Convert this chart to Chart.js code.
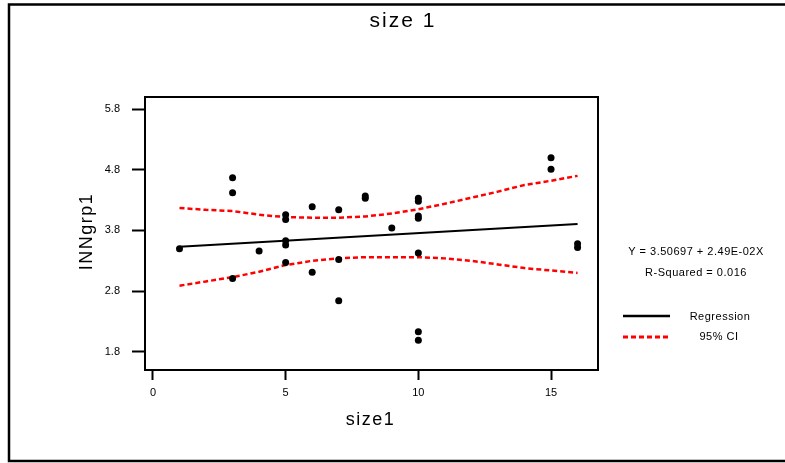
<!DOCTYPE html>
<html>
<head>
<meta charset="utf-8">
<script src="https://cdn.jsdelivr.net/npm/chart.js@4"></script>
<style>
  html, body { margin: 0; padding: 0; background: #fff; }
  canvas { display: block; }
</style>
</head>
<body>
<canvas id="chart" width="785" height="463"></canvas>
<script>
// Observations: size1 (x) against INNgrp1 (y)
const obsX = [1, 3, 3, 3, 4, 5, 5, 5, 5, 5, 6, 6, 7, 7, 7, 8, 8, 9, 10, 10, 10, 10, 10, 10, 10, 15, 15, 16, 16];
const obsY = [3.50, 4.67, 4.42, 3.01, 3.46, 4.06, 3.98, 3.63, 3.56, 3.27, 4.19, 3.11, 4.14, 3.32, 2.64,
              4.37, 4.33, 3.84, 4.33, 4.28, 4.04, 4.00, 3.43, 2.13, 1.99, 5.00, 4.81, 3.58, 3.52];

// 95% confidence band around the fitted line
const ciX     = [1, 2, 3, 4, 5, 6, 7, 8, 9, 10, 11, 12, 13, 14, 15, 16];
const ciUpper = [4.17, 4.14, 4.12, 4.06, 4.02, 4.01, 4.01, 4.03, 4.08, 4.15, 4.24, 4.34, 4.44, 4.55, 4.62, 4.70];
const ciLower = [2.89, 2.96, 3.03, 3.12, 3.23, 3.30, 3.34, 3.36, 3.36, 3.36, 3.34, 3.30, 3.24, 3.18, 3.14, 3.10];

// Fitted regression
const regIntercept = 3.50697;
const regSlope = 0.0249;
const rSquared = 0.016;
const regRange = [1, 16];

// Axis ticks
const xTicks = [0, 5, 10, 15];
const yTicks = [1.8, 2.8, 3.8, 4.8, 5.8];

const FONT = '"Liberation Sans", Arial, Helvetica, sans-serif';

const pointsData = obsX.map((x, i) => ({ x, y: obsY[i] }));
const regData = regRange.map(x => ({ x, y: regIntercept + regSlope * x }));
const upperData = ciX.map((x, i) => ({ x, y: ciUpper[i] }));
const lowerData = ciX.map((x, i) => ({ x, y: ciLower[i] }));

function slopeText(v) {
  const [m, e] = v.toExponential(2).split('e');
  const n = parseInt(e, 10);
  return m + 'E' + (n < 0 ? '-' : '+') + String(Math.abs(n)).padStart(2, '0');
}

// Frame, headings and the fit summary / key at the right
const decor = {
  id: 'decor',
  afterDraw(chart) {
    const ctx = chart.ctx;
    const a = chart.chartArea;
    const W = chart.width;
    ctx.save();
    ctx.strokeStyle = '#000';
    ctx.fillStyle = '#000';

    // outer border (open on the right)
    ctx.lineWidth = 2.5;
    ctx.beginPath();
    ctx.moveTo(W, 4.5);
    ctx.lineTo(9, 4.5);
    ctx.lineTo(9, 461);
    ctx.lineTo(W, 461);
    ctx.stroke();

    // plot box
    ctx.lineWidth = 2;
    ctx.strokeRect(a.left, a.top, a.right - a.left, a.bottom - a.top);

    ctx.textAlign = 'center';
    ctx.textBaseline = 'middle';

    // title
    ctx.font = '21px ' + FONT;
    ctx.letterSpacing = '2px';
    ctx.fillText('size 1', 403, 21);

    // axis titles
    ctx.font = '18px ' + FONT;
    ctx.letterSpacing = '1.5px';
    ctx.fillText('size1', (a.left + a.right) / 2 - 1, 420);
    ctx.save();
    ctx.translate(87, (a.top + a.bottom) / 2 - 2);
    ctx.rotate(-Math.PI / 2);
    ctx.fillText('INNgrp1', 0, 0);
    ctx.restore();

    // fit summary
    ctx.font = '11px ' + FONT;
    ctx.letterSpacing = '0.5px';
    ctx.fillText('Y = ' + regIntercept + ' + ' + slopeText(regSlope) + 'X', 696, 252);
    ctx.fillText('R-Squared = ' + rSquared.toFixed(3), 696, 273);

    // key
    ctx.fillText('Regression', 720, 317);
    ctx.fillText('95% CI', 719, 337);
    ctx.lineWidth = 2.5;
    ctx.beginPath();
    ctx.moveTo(623, 316);
    ctx.lineTo(670, 316);
    ctx.stroke();
    ctx.strokeStyle = '#ff0000';
    ctx.lineWidth = 3;
    ctx.setLineDash([5, 3]);
    ctx.beginPath();
    ctx.moveTo(623, 337);
    ctx.lineTo(670, 337);
    ctx.stroke();
    ctx.restore();
  }
};

new Chart(document.getElementById('chart'), {
  type: 'scatter',
  data: {
    datasets: [
      {
        label: 'Observed',
        data: pointsData,
        pointRadius: 3.5,
        pointHoverRadius: 3.5,
        pointBackgroundColor: '#000',
        pointBorderWidth: 0,
        showLine: false,
        order: 0
      },
      {
        label: 'Regression',
        data: regData,
        showLine: true,
        borderColor: '#000',
        borderWidth: 2,
        pointRadius: 0,
        order: 1
      },
      {
        label: '95% CI upper',
        data: upperData,
        showLine: true,
        borderColor: '#ff0000',
        borderWidth: 2.5,
        borderDash: [5, 3],
        pointRadius: 0,
        order: 2
      },
      {
        label: '95% CI lower',
        data: lowerData,
        showLine: true,
        borderColor: '#ff0000',
        borderWidth: 2.5,
        borderDash: [5, 3],
        pointRadius: 0,
        order: 2
      }
    ]
  },
  options: {
    responsive: false,
    animation: false,
    events: [],
    layout: { padding: { top: 97, right: 187, left: 0, bottom: 0 } },
    plugins: {
      legend: { display: false },
      title: { display: false },
      tooltip: { enabled: false }
    },
    scales: {
      x: {
        type: 'linear',
        min: -0.3,
        max: 16.77,
        afterBuildTicks: s => { s.ticks = xTicks.map(v => ({ value: v })); },
        afterFit: s => { s.height = 93; },
        border: { display: false },
        grid: {
          drawOnChartArea: false,
          drawTicks: true,
          tickLength: 10,
          tickWidth: 2,
          tickColor: '#000'
        },
        ticks: {
          color: '#000',
          font: { family: FONT, size: 11 },
          padding: 6,
          maxRotation: 0
        }
      },
      y: {
        type: 'linear',
        min: 1.5,
        max: 6.0,
        afterBuildTicks: s => { s.ticks = yTicks.map(v => ({ value: v })); },
        afterFit: s => { s.width = 145; },
        border: { display: false },
        grid: {
          drawOnChartArea: false,
          drawTicks: true,
          tickLength: 13,
          tickWidth: 2,
          tickColor: '#000'
        },
        ticks: {
          color: '#000',
          font: { family: FONT, size: 11 },
          padding: 12,
          callback: v => v.toFixed(1)
        }
      }
    }
  },
  plugins: [decor]
});
</script>
</body>
</html>
